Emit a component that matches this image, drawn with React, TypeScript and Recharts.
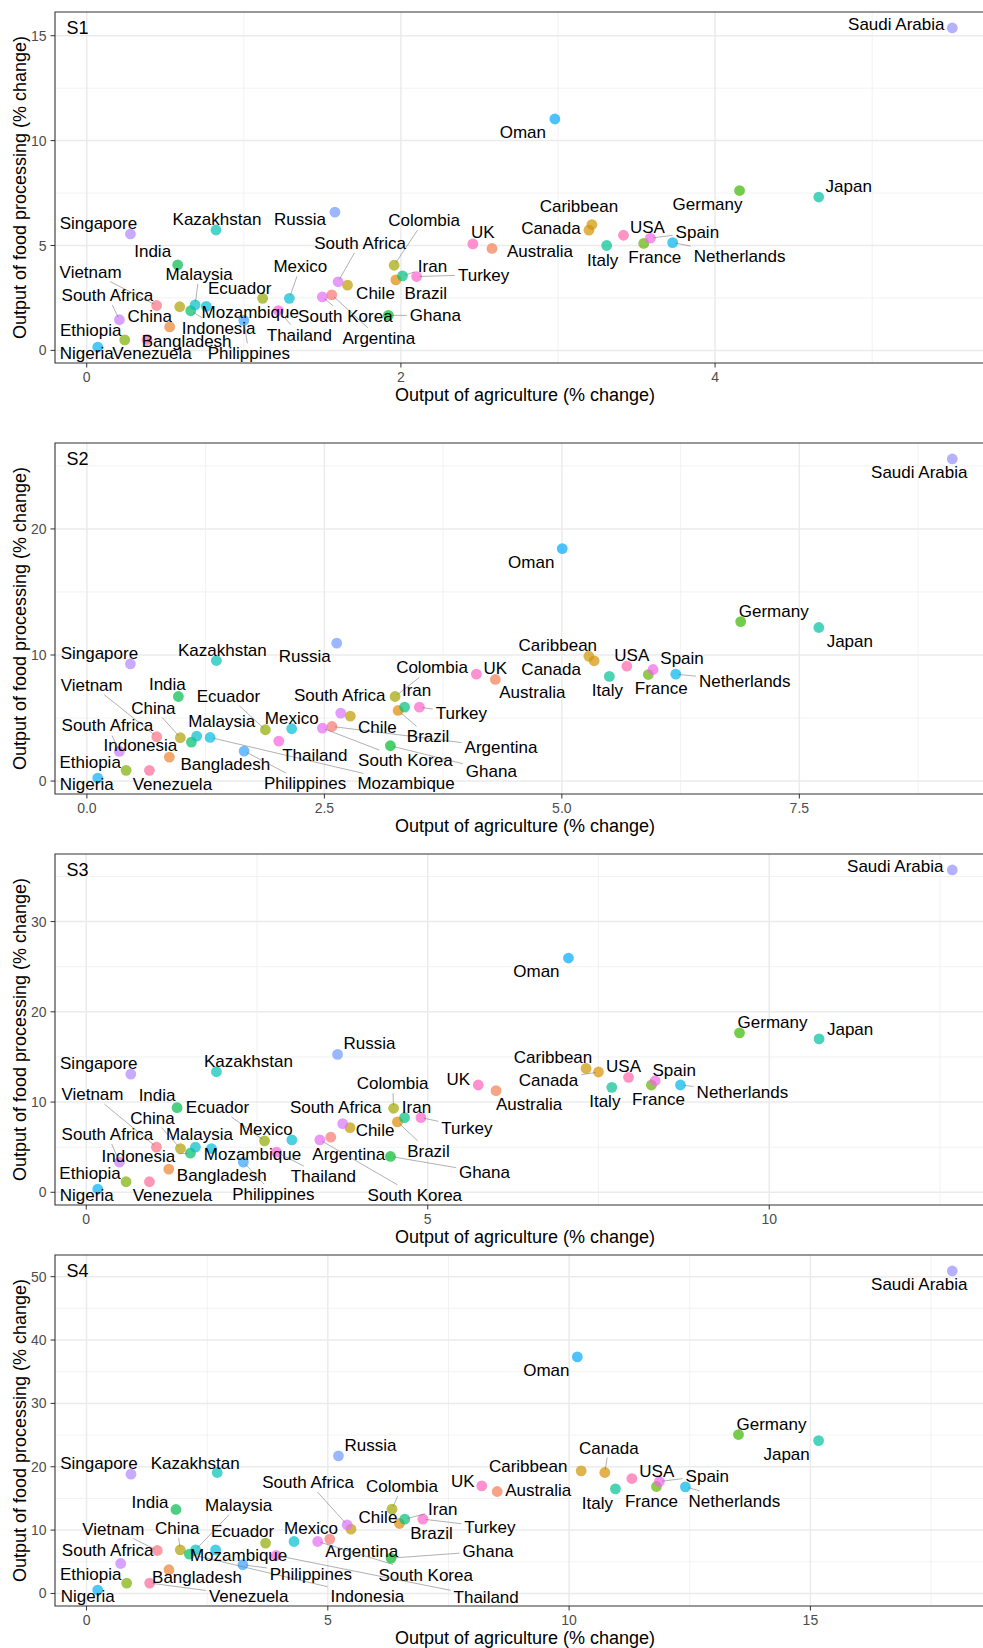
import React from 'react';
import { ScatterChart, Scatter, XAxis, YAxis, CartesianGrid, ReferenceArea } from 'recharts';

const countries = [
  'Argentina', 'Australia', 'Bangladesh', 'Brazil', 'Canada', 'Caribbean', 'Chile', 'China',
  'Colombia', 'Ecuador', 'Ethiopia', 'France', 'Germany', 'Ghana', 'India', 'Indonesia',
  'Iran', 'Italy', 'Japan', 'Kazakhstan', 'Malaysia', 'Mexico', 'Mozambique', 'Netherlands',
  'Nigeria', 'Oman', 'Philippines', 'Russia', 'Saudi Arabia', 'Singapore', 'South Africa', 'South Africa',
  'South Korea', 'Spain', 'Thailand', 'Turkey', 'UK', 'USA', 'Venezuela', 'Vietnam',
];

// ---- S1 ----
const s1Agri = [1.56, 2.58, 0.528, 1.968, 3.197, 3.216, 1.66, 0.592, 1.957, 1.12, 0.242, 3.546, 4.156, 1.92, 0.579, 0.662, 2.01, 3.31, 4.66, 0.823, 0.69, 1.29, 0.761, 3.73, 0.07, 2.98, 1.0, 1.58, 5.51, 0.278, 0.208, 1.6, 1.5, 3.588, 1.22, 2.1, 2.458, 3.417, 0.384, 0.445];
const s1Food = [2.65, 4.86, 1.12, 3.36, 5.73, 6.0, 3.11, 2.08, 4.06, 2.48, 0.5, 5.1, 7.62, 1.67, 4.08, 1.89, 3.55, 5.0, 7.31, 5.74, 2.17, 2.48, 2.1, 5.14, 0.16, 11.03, 1.43, 6.59, 15.37, 5.55, 1.46, 3.27, 2.55, 5.35, 1.9, 3.52, 5.08, 5.49, 0.52, 2.14];
const s1MajorX = [0, 2, 4];
const s1MinorX = [1, 3, 5];
const s1XLabels = ['0', '2', '4'];
const s1MajorY = [0, 5, 10, 15];
const s1MinorY = [2.5, 7.5, 12.5];
const s1YLabels = ['0', '5', '10', '15'];

// ---- S2 ----
const s2Agri = [2.58, 4.3, 0.868, 3.276, 5.34, 5.284, 2.773, 0.984, 3.244, 1.879, 0.413, 5.91, 6.883, 3.195, 0.963, 1.1, 3.345, 5.5, 7.705, 1.363, 1.156, 2.156, 1.297, 6.199, 0.114, 5.004, 1.655, 2.63, 9.11, 0.458, 0.342, 2.672, 2.479, 5.96, 2.02, 3.5, 4.1, 5.684, 0.658, 0.735];
const s2Food = [4.33, 8.06, 1.9, 5.6, 9.54, 9.9, 5.15, 3.44, 6.71, 4.07, 0.85, 8.45, 12.65, 2.8, 6.71, 3.09, 5.86, 8.3, 12.18, 9.56, 3.57, 4.15, 3.46, 8.48, 0.24, 18.44, 2.38, 10.94, 25.55, 9.3, 2.35, 5.39, 4.2, 8.85, 3.17, 5.86, 8.48, 9.11, 0.85, 3.52];
const s2MajorX = [0, 2.5, 5, 7.5];
const s2MinorX = [1.25, 3.75, 6.25, 8.75];
const s2XLabels = ['0.0', '2.5', '5.0', '7.5'];
const s2MajorY = [0, 10, 20];
const s2MinorY = [5, 15, 25];
const s2YLabels = ['0', '10', '20'];

// ---- S3 ----
const s3Agri = [3.58, 6.0, 1.208, 4.556, 7.5, 7.318, 3.862, 1.379, 4.5, 2.61, 0.583, 8.275, 9.565, 4.454, 1.33, 1.525, 4.66, 7.695, 10.73, 1.906, 1.599, 3.01, 1.833, 8.7, 0.168, 7.06, 2.3, 3.68, 12.68, 0.652, 0.486, 3.755, 3.42, 8.33, 2.785, 4.9, 5.74, 7.94, 0.925, 1.028];
const s3Food = [6.11, 11.26, 2.57, 7.8, 13.33, 13.73, 7.17, 4.85, 9.31, 5.7, 1.17, 11.89, 17.67, 3.97, 9.38, 4.34, 8.28, 11.63, 17.0, 13.36, 5.0, 5.81, 4.85, 11.89, 0.36, 25.96, 3.35, 15.28, 35.72, 13.1, 3.35, 7.61, 5.81, 12.36, 4.45, 8.28, 11.89, 12.74, 1.17, 5.0];
const s3MajorX = [0, 5, 10];
const s3MinorX = [2.5, 7.5, 12.5];
const s3XLabels = ['0', '5', '10'];
const s3MajorY = [0, 10, 20, 30];
const s3MinorY = [5, 15, 25, 35];
const s3YLabels = ['0', '10', '20', '30'];

// ---- S4 ----
const s4Agri = [5.04, 8.51, 1.708, 6.485, 10.74, 10.25, 5.48, 1.943, 6.33, 3.71, 0.832, 11.81, 13.51, 6.31, 1.853, 2.13, 6.594, 10.96, 15.17, 2.708, 2.26, 4.3, 2.675, 12.41, 0.232, 10.17, 3.24, 5.22, 17.94, 0.921, 0.708, 5.4, 4.79, 11.87, 3.93, 6.97, 8.19, 11.3, 1.308, 1.466];
const s4Food = [8.58, 16.09, 3.74, 11.04, 19.09, 19.35, 10.16, 6.89, 13.31, 7.95, 1.64, 16.88, 25.08, 5.58, 13.25, 6.21, 11.73, 16.51, 24.13, 19.09, 6.89, 8.2, 6.89, 16.83, 0.54, 37.33, 4.53, 21.72, 50.9, 18.83, 4.73, 10.84, 8.2, 17.67, 6.0, 11.73, 16.99, 18.14, 1.64, 6.78];
const s4MajorX = [0, 5, 10, 15];
const s4MinorX = [2.5, 7.5, 12.5, 17.5];
const s4XLabels = ['0', '5', '10', '15'];
const s4MajorY = [0, 10, 20, 30, 40, 50];
const s4MinorY = [5, 15, 25, 35, 45];
const s4YLabels = ['0', '10', '20', '30', '40', '50'];

// ---- label placement (pixel offsets of each repelled label from its point; styling only) ----
const s1LabelDx = [47, 48, 17, 30, -38, -13, 28, -30, 30, -23, -34, 11, -32, 47, -25, 28, 30, -4, 30, 1, 4, 11, 44, 67, -11, -32, 5, -35, -56, -32, -12, 22, 23, 47, 21, 67, 10, 24, 5, -66];
const s1LabelDy = [43, 3, 14, 13, -2, -19, 8, 9, -45, -10, -10, 14, 13, 0, -14, 17, -10, 14, -11, -11, -31, -32, 6, 13, 6, 13, 33, 7, -4, -11, -25, -39, 19, -6, 24, -2, -12, -8, 14, -34];
const s2LabelDx = [169, 37, 56, 30, -43, -31, 27, -27, 37, -37, -36, 13, 33, 101, -11, -51, 12, -2, 31, 6, 25, 0, 196, 69, -11, -31, 61, -32, -33, -31, -12, -1, 83, 29, 36, 42, 19, 5, 23, -65];
const s2LabelDy = [21, 13, 7, 26, 8, -11, 11, -30, -29, -34, -8, 13, -11, 25, -12, 3, -17, 14, 13, -11, -15, -11, 46, 7, 6, 13, 32, 13, 13, -11, -26, -18, 32, -11, 14, 6, -6, -11, 14, -52];
const s3LabelDx = [18, 33, 53, 31, -50, -33, 25, -28, -1, -47, -36, 7, 33, 94, -20, -52, 12, -7, 31, 32, 4, -26, 41, 62, -11, -32, 30, 32, -57, -32, -12, -7, 95, 19, 47, 46, -20, -5, 23, -64];
const s3LabelDy = [17, 13, 6, 29, 8, -11, 2, -31, -25, -34, -9, 14, -11, 16, -13, 3, -11, 14, -10, -11, -13, -11, 5, 7, 6, 13, 32, -11, -4, -11, -28, -17, 55, -11, 24, 10, -6, -11, 13, -53];
const s4LabelDx = [32, 41, 28, 32, 4, -53, 27, -3, 10, -23, -36, -5, 33, 97, -26, 178, 38, -18, -32, -22, 43, 17, 23, 49, -10, -31, 68, 32, -33, -32, -13, -39, 108, 48, 210, 67, -19, 25, 99, -44];
const s4LabelDy = [12, -2, 7, 9, -25, -5, -12, -22, -23, -12, -9, 14, -11, -7, -8, 42, -10, 14, 13, -10, -45, -14, 5, 14, 6, 13, 9, -11, 13, -11, -13, -43, 33, -6, 42, 8, -5, -8, 13, -22];

const FONT = "'Liberation Sans', Arial, Helvetica, sans-serif";

// ggplot2 default hue palette (hcl, c=100, l=65)
function hclColor(h: number, c = 100, l = 65): string {
  const hr = (h * Math.PI) / 180;
  const U = c * Math.cos(hr);
  const V = c * Math.sin(hr);
  const Y = l > 8 ? Math.pow((l + 16) / 116, 3) : l / 903.3;
  const Xn = 0.95047, Yn = 1.0, Zn = 1.08883;
  const den = Xn + 15 * Yn + 3 * Zn;
  const un = (4 * Xn) / den;
  const vn = (9 * Yn) / den;
  const u = U / (13 * l) + un;
  const v = V / (13 * l) + vn;
  const X = (9 * Y * u) / (4 * v);
  const Z = -X / 3 - 5 * Y + (3 * Y) / v;
  const lin = [
    3.240479 * X - 1.53715 * Y - 0.498535 * Z,
    -0.969256 * X + 1.875992 * Y + 0.041556 * Z,
    0.055648 * X - 0.204043 * Y + 1.057311 * Z,
  ];
  const out = lin.map((t) => {
    const g = t <= 0.0031308 ? 12.92 * t : 1.055 * Math.pow(t, 1 / 2.4) - 0.055;
    return Math.round(Math.max(0, Math.min(1, g)) * 255);
  });
  return `rgb(${out[0]},${out[1]},${out[2]})`;
}

const palette = countries.map((_, i) => hclColor(15 + (360 / countries.length) * i));

let measureCtx: CanvasRenderingContext2D | null = null;
function textWidth(s: string, size: number): number {
  if (!measureCtx) {
    const c = document.createElement('canvas');
    measureCtx = c.getContext('2d');
  }
  if (!measureCtx) return s.length * size * 0.55;
  measureCtx.font = `${size}px 'Liberation Sans', Arial, sans-serif`;
  return measureCtx.measureText(s).width;
}

function expand(vals: number[]): [number, number] {
  const mn = Math.min(...vals);
  const mx = Math.max(...vals);
  const p = (mx - mn) * 0.05;
  return [mn - p, mx + p];
}

const PointShape = (props: any) => {
  const { cx, cy, payload } = props;
  if (cx == null || cy == null) return null;
  return <circle cx={cx} cy={cy} r={5.4} fill={payload.color} fillOpacity={0.7} />;
};

const LabelShape = (props: any) => {
  const { cx, cy, payload } = props;
  if (cx == null || cy == null) return null;
  const dx = payload.dx;
  const dy = payload.dy;
  const lx = cx + dx;
  const ly = cy + dy;
  const w = textWidth(payload.name, 17);
  const hw = w / 2 + 3;
  const hh = 10;
  let seg = null;
  const adx = Math.abs(dx);
  const ady = Math.abs(dy);
  const t = Math.min(adx > 0 ? hw / adx : Infinity, ady > 0 ? hh / ady : Infinity);
  if (t < 1) {
    const d = Math.hypot(dx, dy);
    const len = (1 - t) * d;
    if (len > 12) {
      const ex = lx - dx * t;
      const ey = ly - dy * t;
      const sx = cx + (dx / d) * 3;
      const sy = cy + (dy / d) * 3;
      seg = <line x1={sx} y1={sy} x2={ex} y2={ey} stroke="#707070" strokeWidth={0.55} />;
    }
  }
  return (
    <g>
      {seg}
      <text x={lx} y={ly + 6} textAnchor="middle" fontSize={17} fontFamily={FONT} fill="#000">
        {payload.name}
      </text>
    </g>
  );
};

type PanelProps = {
  tag: string;
  top: number;
  agri: number[];
  food: number[];
  ldx: number[];
  ldy: number[];
  majorX: number[];
  minorX: number[];
  xLabels: string[];
  majorY: number[];
  minorY: number[];
  yLabels: string[];
};

function Panel(p: PanelProps) {
  const data = countries.map((name, i) => ({
    name,
    x: p.agri[i],
    y: p.food[i],
    color: palette[i],
    dx: p.ldx[i],
    dy: p.ldy[i],
  }));
  const xd = expand(p.agri);
  const yd = expand(p.food);

  const XTick = (props: any) => {
    const { x, y, payload } = props;
    const i = p.majorX.indexOf(payload.value);
    return (
      <text x={x} y={y + 14} textAnchor="middle" fontSize={14} fill="#4D4D4D" fontFamily={FONT}>
        {i >= 0 ? p.xLabels[i] : ''}
      </text>
    );
  };
  const YTick = (props: any) => {
    const { x, y, payload } = props;
    const i = p.majorY.indexOf(payload.value);
    return (
      <text x={x - 4} y={y + 5} textAnchor="end" fontSize={14} fill="#4D4D4D" fontFamily={FONT}>
        {i >= 0 ? p.yLabels[i] : ''}
      </text>
    );
  };

  const xTitle = (lp: any) => {
    const vb = lp.viewBox || {};
    return (
      <text x={vb.x + vb.width / 2} y={vb.y + 38} textAnchor="middle" fontSize={18} fontFamily={FONT} fill="#000">
        Output of agriculture (% change)
      </text>
    );
  };
  const yTitle = (lp: any) => {
    const vb = lp.viewBox || {};
    const cy = vb.y + vb.height / 2;
    return (
      <g>
        <text
          transform={`translate(25.5, ${cy}) rotate(-90)`}
          textAnchor="middle"
          fontSize={18}
          fontFamily={FONT}
          fill="#000"
        >
          Output of food processing (% change)
        </text>
        <text x={vb.x + vb.width + 11.5} y={vb.y + 21.5} fontSize={18} fontFamily={FONT} fill="#000">
          {p.tag}
        </text>
      </g>
    );
  };

  return (
    <div style={{ position: 'absolute', left: 0, top: p.top }}>
      <ScatterChart width={996} height={409} margin={{ top: 10, right: 1, bottom: 0, left: 0 }}>
        <CartesianGrid horizontalValues={p.minorY} verticalValues={p.minorX} stroke="#EFEFEF" strokeWidth={0.8} />
        <CartesianGrid horizontalValues={p.majorY} verticalValues={p.majorX} stroke="#EBEBEB" strokeWidth={1.5} />
        <XAxis
          type="number"
          dataKey="x"
          domain={xd}
          allowDataOverflow
          ticks={p.majorX}
          interval={0}
          height={48}
          axisLine={false}
          tickLine={{ stroke: '#333333', strokeWidth: 1 }}
          tickSize={4.5}
          tickMargin={0}
          tick={XTick}
          label={{ content: xTitle }}
        />
        <YAxis
          type="number"
          dataKey="y"
          domain={yd}
          allowDataOverflow
          ticks={p.majorY}
          interval={0}
          width={55}
          axisLine={false}
          tickLine={{ stroke: '#333333', strokeWidth: 1 }}
          tickSize={4.5}
          tickMargin={0}
          tick={YTick}
          label={{ content: yTitle }}
        />
        <ReferenceArea
          x1={xd[0]}
          x2={xd[1]}
          y1={yd[0]}
          y2={yd[1]}
          fill="none"
          stroke="#333333"
          strokeWidth={1.1}
          ifOverflow="visible"
        />
        <Scatter data={data} shape={PointShape} isAnimationActive={false} />
        <Scatter data={data} shape={LabelShape} isAnimationActive={false} />
      </ScatterChart>
    </div>
  );
}

export default function App() {
  return (
    <div
      style={{
        position: 'absolute',
        left: 0,
        top: 0,
        width: 983,
        height: 1648,
        overflow: 'hidden',
        background: '#ffffff',
      }}
    >
      <Panel tag="S1" top={1.5} agri={s1Agri} food={s1Food} ldx={s1LabelDx} ldy={s1LabelDy}
        majorX={s1MajorX} minorX={s1MinorX} xLabels={s1XLabels}
        majorY={s1MajorY} minorY={s1MinorY} yLabels={s1YLabels} />
      <Panel tag="S2" top={433.3} agri={s2Agri} food={s2Food} ldx={s2LabelDx} ldy={s2LabelDy}
        majorX={s2MajorX} minorX={s2MinorX} xLabels={s2XLabels}
        majorY={s2MajorY} minorY={s2MinorY} yLabels={s2YLabels} />
      <Panel tag="S3" top={844.3} agri={s3Agri} food={s3Food} ldx={s3LabelDx} ldy={s3LabelDy}
        majorX={s3MajorX} minorX={s3MinorX} xLabels={s3XLabels}
        majorY={s3MajorY} minorY={s3MinorY} yLabels={s3YLabels} />
      <Panel tag="S4" top={1245} agri={s4Agri} food={s4Food} ldx={s4LabelDx} ldy={s4LabelDy}
        majorX={s4MajorX} minorX={s4MinorX} xLabels={s4XLabels}
        majorY={s4MajorY} minorY={s4MinorY} yLabels={s4YLabels} />
    </div>
  );
}
